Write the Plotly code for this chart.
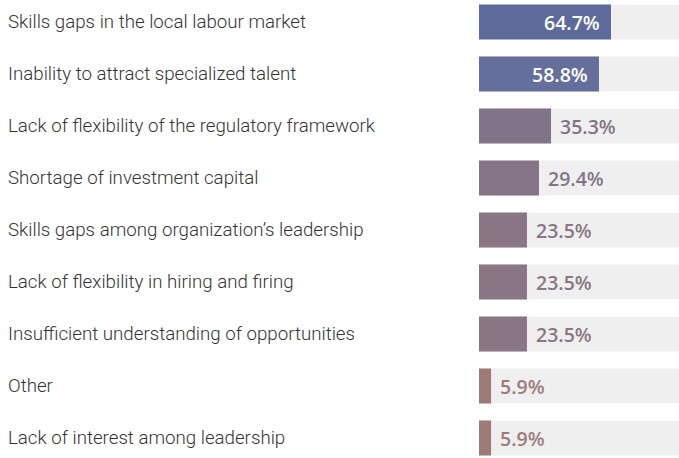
import plotly.graph_objects as go

categories = [
    "Skills gaps in the local labour market",
    "Inability to attract specialized talent",
    "Lack of flexibility of the regulatory framework",
    "Shortage of investment capital",
    "Skills gaps among organization\u2019s leadership",
    "Lack of flexibility in hiring and firing",
    "Insufficient understanding of opportunities",
    "Other",
    "Lack of interest among leadership",
]
values = [64.7, 58.8, 35.3, 29.4, 23.5, 23.5, 23.5, 5.9, 5.9]
bar_colors = [
    "#5d6b9c", "#646f9b", "#837388", "#857487", "#897583",
    "#897583", "#897583", "#9e7b77", "#9e7b77",
]
full = [100] * len(categories)

W, H = 679, 458
left_px = 479
row_px = 52
first_center = 22

fig = go.Figure()

# grey track behind each bar
fig.add_trace(go.Bar(
    y=categories, x=full, orientation="h",
    marker=dict(color="#efefef", line=dict(width=0)),
    width=35 / row_px, hoverinfo="skip", showlegend=False,
))
fig.add_trace(go.Bar(
    y=categories, x=values, orientation="h",
    marker=dict(color=bar_colors, line=dict(width=0)),
    width=35 / row_px, showlegend=False,
))

annotations = []
for cat, val, col in zip(categories, values, bar_colors):
    # category label on the left
    annotations.append(dict(
        x=0, xref="paper", xshift=6, y=cat, yref="y",
        text=cat, showarrow=False, xanchor="left", yanchor="middle",
        font=dict(family="Roboto", size=18.7, color="#333333", weight=300),
    ))
    inside = val > 50
    annotations.append(dict(
        x=val, xref="x", y=cat, yref="y",
        text=f"{val:.1f}%", showarrow=False,
        xanchor="right" if inside else "left",
        xshift=-9 if inside else 7, yanchor="middle",
        font=dict(family="Open Sans", size=19.5,
                  color="white" if inside else col, weight=600),
    ))

px_per_pct = 132 / 64.7
lo = -first_center / row_px
hi = (H - first_center) / row_px

fig.update_layout(
    width=W, height=H,
    margin=dict(l=0, r=0, t=0, b=0),
    paper_bgcolor="white", plot_bgcolor="white",
    barmode="overlay",
    xaxis=dict(domain=[left_px / W, 1], range=[0, (W - left_px) / px_per_pct],
               visible=False, fixedrange=True),
    yaxis=dict(range=[hi, lo], visible=False, fixedrange=True),
    annotations=annotations,
)

fig.write_html(
    "out.html",
    config={"displayModeBar": False},
    post_script="document.body.style.margin='0';document.body.style.overflow='hidden';",
)
